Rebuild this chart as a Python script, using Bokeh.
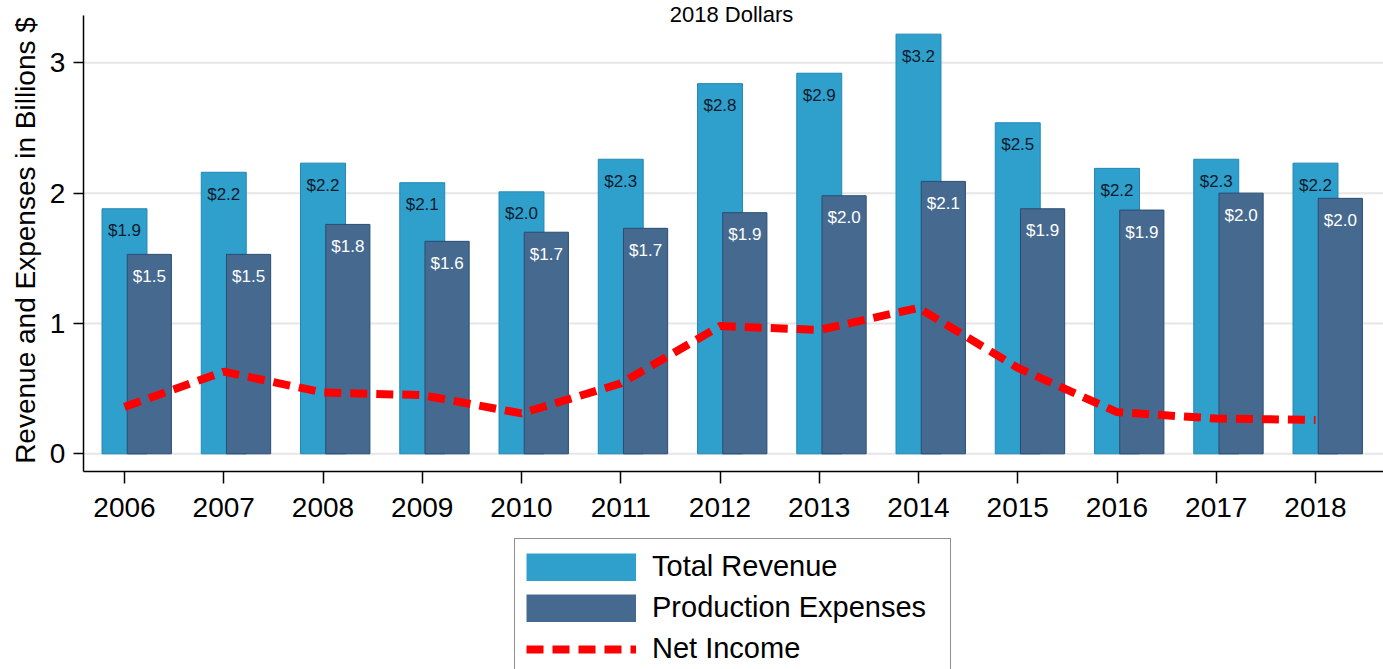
import math
from bokeh.plotting import figure
from bokeh.models import (ColumnDataSource, FixedTicker, Legend, LegendItem,
                          LabelSet, Label, Range1d)
from bokeh.transform import dodge
from bokeh.core.properties import value
from bokeh.embed import file_html
from bokeh.resources import INLINE

# ---------------- data ----------------
years = [2006, 2007, 2008, 2009, 2010, 2011, 2012, 2013, 2014, 2015, 2016, 2017, 2018]
total_revenue = [1.88, 2.16, 2.23, 2.08, 2.01, 2.26, 2.84, 2.92, 3.22, 2.54, 2.19, 2.26, 2.23]
production_expenses = [1.53, 1.53, 1.76, 1.63, 1.70, 1.73, 1.85, 1.98, 2.09, 1.88, 1.87, 2.00, 1.96]
net_income = [0.36, 0.63, 0.47, 0.45, 0.31, 0.54, 0.98, 0.95, 1.12, 0.66, 0.32, 0.27, 0.26]
revenue_labels = ["$1.9", "$2.2", "$2.2", "$2.1", "$2.0", "$2.3", "$2.8",
                  "$2.9", "$3.2", "$2.5", "$2.2", "$2.3", "$2.2"]
expense_labels = ["$1.5", "$1.5", "$1.8", "$1.6", "$1.7", "$1.7", "$1.9",
                  "$2.0", "$2.1", "$1.9", "$1.9", "$2.0", "$2.0"]
y_ticks = [0, 1, 2, 3]
subtitle = "2018 Dollars"
y_title = "Revenue and Expenses in Billions $"

FONT = "Liberation Sans"
REV_FILL = "#2F9FCC"
REV_LINE = "#2288B5"
EXP_FILL = "#466A8F"
EXP_LINE = "#2A4C72"

W, H = 1383, 669
X0, X1 = 2004.7506, 2018.6851     # full canvas span
Y0, Y1 = -1.655, 3.478
X_AXIS_AT = -0.1335                # where the x axis line sits
Y_AXIS_AT = 2005.584               # where the y axis line sits
Y_AXIS_TOP = 3.363

src = ColumnDataSource(dict(year=years, revenue=total_revenue,
                            expense=production_expenses, net=net_income,
                            rev_label=revenue_labels, exp_label=expense_labels))

p = figure(width=W, height=H, output_backend="svg", toolbar_location=None,
           x_range=Range1d(X0, X1), y_range=Range1d(Y0, Y1),
           min_border_left=0, min_border_top=0, min_border_right=0,
           min_border_bottom=0)
p.outline_line_color = None
p.background_fill_color = "white"
p.border_fill_color = "white"

# horizontal grid lines, starting at the y axis
p.segment(x0=Y_AXIS_AT, x1=X1, y0=y_ticks, y1=y_ticks,
          line_color="#E6E6E6", line_width=2)

r_rev = p.vbar(x="year", top="revenue", bottom=0, width=0.453, source=src,
               fill_color=REV_FILL, line_color=REV_LINE, line_width=1)
r_exp = p.vbar(x=dodge("year", 0.25), top="expense", bottom=0, width=0.445,
               source=src, fill_color=EXP_FILL, line_color=EXP_LINE, line_width=1)
r_net = p.line(x="year", y="net", source=src, line_color="#FF0000",
               line_width=8, line_dash="17 9", line_cap="butt")

# legend keys drawn full-size (as in the source); they plot nothing
nan = float("nan")
k_rev = p.line(x=[nan, nan], y=[nan, nan], line_color=REV_FILL, line_width=28,
               line_cap="butt")
k_exp = p.line(x=[nan, nan], y=[nan, nan], line_color=EXP_FILL, line_width=28,
               line_cap="butt")

p.add_layout(LabelSet(x="year", y="revenue", text="rev_label", source=src,
                      y_offset=-22, text_align="center", text_baseline="middle",
                      text_font=value(FONT), text_font_size="17px",
                      text_color="#0F1B2C"))
p.add_layout(LabelSet(x=dodge("year", 0.25), y="expense", text="exp_label", source=src,
                      y_offset=-22, text_align="center", text_baseline="middle",
                      text_font=value(FONT), text_font_size="17px",
                      text_color="white"))

# axes drawn at fixed positions inside the canvas
p.xaxis.ticker = FixedTicker(ticks=years)
p.yaxis.ticker = FixedTicker(ticks=y_ticks)
p.xaxis.fixed_location = X_AXIS_AT
p.yaxis.fixed_location = Y_AXIS_AT
p.xaxis.bounds = (Y_AXIS_AT, X1)
p.yaxis.bounds = (X_AXIS_AT, Y_AXIS_TOP)
p.xaxis.minor_tick_line_color = None
p.yaxis.minor_tick_line_color = None
for ax in (p.xaxis, p.yaxis):
    ax.axis_line_color = "black"
    ax.axis_line_width = 1.5
    ax.major_tick_line_color = "black"
    ax.major_tick_line_width = 1.5
    ax.major_tick_in = 0
    ax.major_label_text_font = FONT
    ax.major_label_text_font_size = "28px"
    ax.major_label_text_color = "black"
p.xaxis.major_tick_out = 12
p.xaxis.major_label_standoff = 15
p.yaxis.major_tick_out = 10
p.yaxis.major_label_standoff = 8
p.xgrid.grid_line_color = None
p.ygrid.grid_line_color = None

# y axis title
p.add_layout(Label(x=25, y=H - 240, x_units="screen", y_units="screen",
                   text=y_title, angle=math.pi / 2, text_align="center",
                   text_baseline="alphabetic", text_font=FONT,
                   text_font_size="28px", text_color="black"))

# subtitle at the very top
p.add_layout(Label(x=731, y=H - 1, x_units="screen", y_units="screen", text=subtitle,
                   text_align="center", text_baseline="top",
                   text_font=FONT, text_font_size="22px", text_color="black"))

legend = Legend(items=[LegendItem(label="Total Revenue", renderers=[k_rev]),
                       LegendItem(label="Production Expenses", renderers=[k_exp]),
                       LegendItem(label="Net Income", renderers=[r_net])],
                location=(514, -8), orientation="vertical")
legend.border_line_color = "#222222"
legend.border_line_width = 1.5
legend.background_fill_color = "white"
legend.background_fill_alpha = 1
legend.label_text_font = FONT
legend.label_text_font_size = "29px"
legend.label_text_color = "black"
legend.glyph_width = 110
legend.glyph_height = 28
legend.label_height = 33
legend.label_standoff = 16
legend.padding = 11
legend.spacing = 8
legend.label_width = 287
legend.margin = 0
p.add_layout(legend, "center")

open("out.html", "w").write(file_html(p, INLINE))
